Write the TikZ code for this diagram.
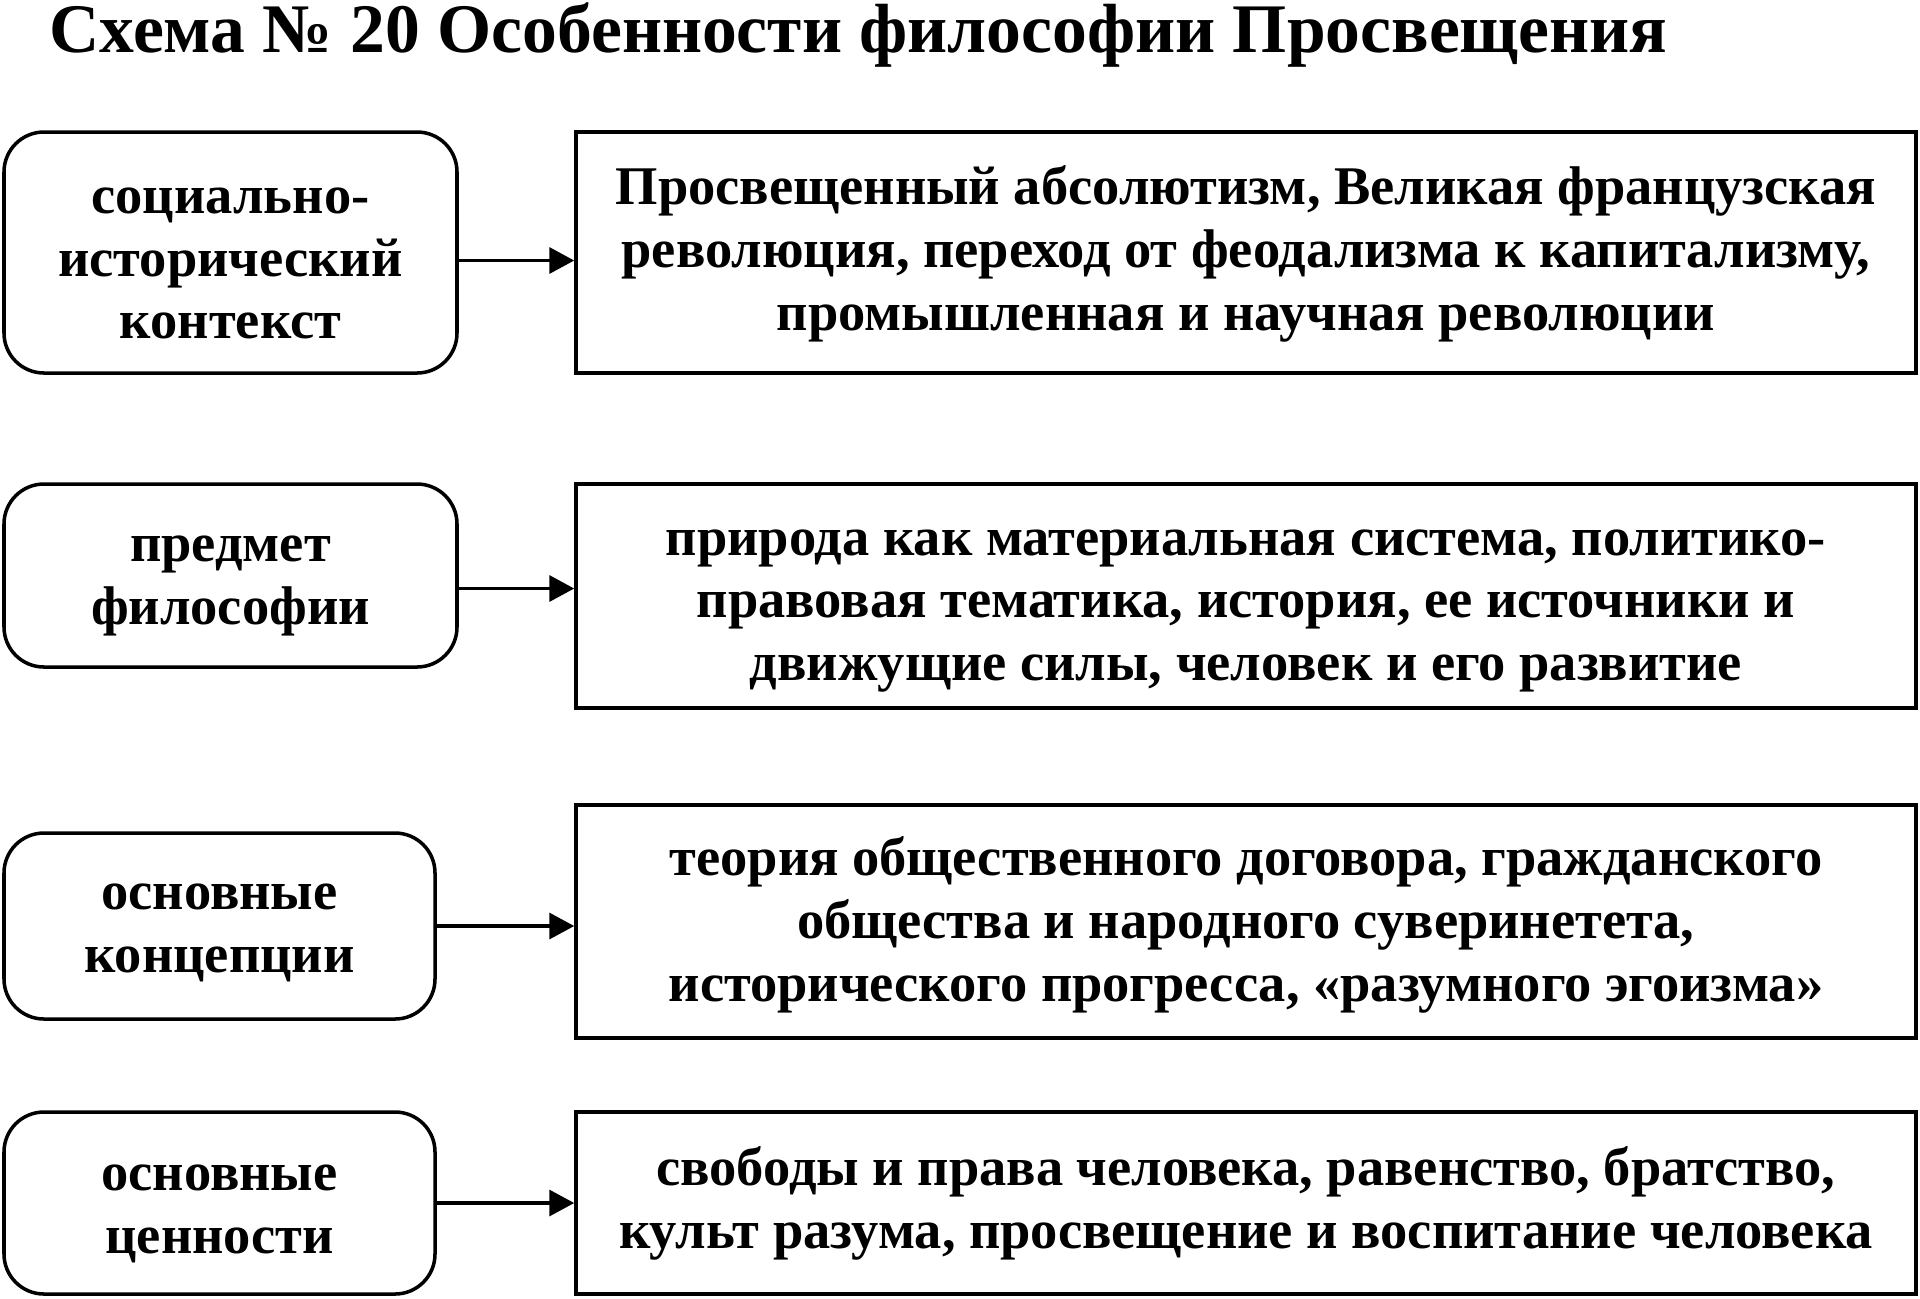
\documentclass[tikz,border=0pt]{standalone}
\usepackage{fontspec}
\setmainfont{Liberation Serif}
\usetikzlibrary{arrows.meta}
\tikzset{
  tema/.style={draw, line width=1pt, rounded corners=0.4cm, inner sep=0pt},
  texto/.style={draw, line width=1pt, inner sep=0pt},
  letra/.style={align=center, inner sep=0pt, font=\bfseries\fontsize{15.5}{17.9}\selectfont},
  flecha/.style={line width=1pt, -{Triangle[length=2.5mm, width=2.6mm]}}
}
\begin{document}
\begin{tikzpicture}
	\useasboundingbox (0,0) rectangle (19.2,-12.98);
	% Título
	\node[anchor=base west, inner sep=0pt, font=\bfseries\fontsize{19.8}{24}\selectfont] (titulo) at (0.49,-0.52)
		{Схема № 20 Особенности философии Просвещения};
	
	% Primera fila
	\begin{scope}[yshift=-2.525cm]
		\node[tema, minimum width=4.53cm, minimum height=2.41cm] (contexto) at (2.305,0) {};
		\node[letra] (contextoL) at ([yshift=-0.11cm]contexto.center)
			{социально-\\исторический\\контекст};
		\node[texto, minimum width=13.4cm, minimum height=2.41cm] (contextoTxt) at (12.46,0) {};
		\node[letra] (contextoTxtL) at ([yshift=-0.01cm]contextoTxt.center)
			{Просвещенный абсолютизм, Великая французская\\революция, переход от феодализма к капитализму,\\промышленная и научная революции};
	\end{scope}
	\draw[flecha] ([yshift=-0.08cm]contexto.east) -- ([yshift=-0.08cm]contexto.east -| contextoTxt.west);
	
	% Segunda fila
	\begin{scope}[yshift=-5.755cm]
		\node[tema, minimum width=4.53cm, minimum height=1.83cm] (predmet) at (2.305,0) {};
		\node[letra] (predmetL) at ([yshift=-0.10cm]predmet.center)
			{предмет\\философии};
		\node[texto, minimum width=13.4cm, minimum height=2.24cm] (predmetTxt) at (12.46,-0.205) {};
		\node[letra] (predmetTxtL) at ([yshift=-0.15cm]predmetTxt.center)
			{природа как материальная система, политико-\\правовая тематика, история, ее источники и\\движущие силы, человек и его развитие};
	\end{scope}
	\draw[flecha] ([yshift=-0.13cm]predmet.east) -- ([yshift=-0.13cm]predmet.east -| predmetTxt.west);
	
	% Tercera fila
	\begin{scope}[yshift=-9.26cm]
		\node[tema, minimum width=4.31cm, minimum height=1.86cm] (koncep) at (2.195,0) {};
		\node[letra] (koncepL) at ([yshift=-0.07cm]koncep.center)
			{основные\\концепции};
		\node[texto, minimum width=13.4cm, minimum height=2.33cm] (koncepTxt) at (12.46,0.045) {};
		\node[letra] (koncepTxtL) at ([yshift=-0.03cm]koncepTxt.center)
			{теория общественного договора, гражданского\\общества и народного суверинетета,\\исторического прогресса, «разумного эгоизма»};
	\end{scope}
	\draw[flecha] (koncep.east) -- (koncep.east -| koncepTxt.west);
	
	% Cuarta fila
	\begin{scope}[yshift=-12.03cm]
		\node[tema, minimum width=4.31cm, minimum height=1.82cm] (cennost) at (2.195,0) {};
		\node[letra] (cennostL) at ([yshift=-0.11cm]cennost.center)
			{основные\\ценности};
		\node[texto, minimum width=13.4cm, minimum height=1.82cm] (cennostTxt) at (12.46,0) {};
		\node[letra] (cennostTxtL) at (cennostTxt.center)
			{свободы и права человека, равенство, братство,\\культ разума, просвещение и воспитание человека};
	\end{scope}
	\draw[flecha] (cennost.east) -- (cennost.east -| cennostTxt.west);
\end{tikzpicture}
\end{document}
